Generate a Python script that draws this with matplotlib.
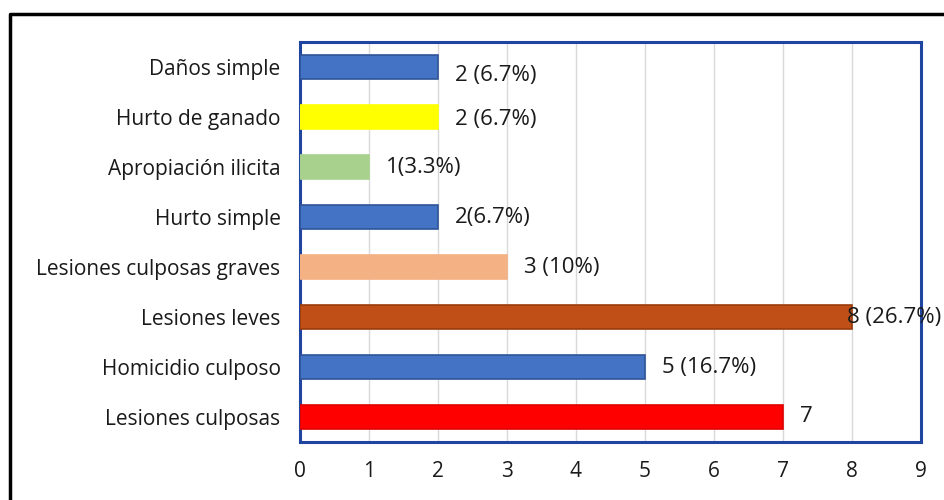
import matplotlib
matplotlib.use('Agg')
import matplotlib.pyplot as plt
from matplotlib.lines import Line2D

# data, bottom to top
categories = ['Lesiones culposas', 'Homicidio culposo', 'Lesiones leves',
              'Lesiones culposas graves', 'Hurto simple', 'Apropiación ilicita',
              'Hurto de ganado', 'Daños simple']
counts = [7, 5, 8, 3, 2, 1, 2, 2]
bar_labels = ['7', '5 (16.7%)', '8 (26.7%)', '3 (10%)', '2(6.7%)', '1(3.3%)',
              '2 (6.7%)', '2 (6.7%)']
x_ticks = list(range(0, 10))

colors = ['#FF0000', '#4472C4', '#BF4F17', '#F4B183', '#4472C4', '#A9D18E',
          '#FFFF00', '#4472C4']
edges = ['#E00000', '#2F5597', '#9A3C0C', '#F4B183', '#2F5597', '#A9D18E',
         '#FFFF00', '#2F5597']
# label offsets in pixels (dx, dy)
label_off = [(17, 0), (17, 0), (-5, 0), (17, 0), (17, 0), (17, 0), (17, -2), (17, -9)]

plt.rcParams['font.family'] = ['Open Sans', 'DejaVu Sans']

fig = plt.figure(figsize=(9.45, 5), dpi=100)
ax = fig.add_axes([300 / 945, 58 / 500, 621 / 945, 400 / 500])

ypos = list(range(len(categories)))
ax.barh(ypos, counts, height=0.48, color=colors, edgecolor=edges, linewidth=1.2, zorder=3)

for y, v, lab, (dx, dy) in zip(ypos, counts, bar_labels, label_off):
    ax.annotate(lab, (v, y), xytext=(dx * 0.72, dy * 0.72), textcoords='offset points',
                ha='left', va='center', fontsize=16, color='#1A1A1A', zorder=4,
                annotation_clip=False)

ax.set_xlim(0, 9)
ax.set_ylim(-0.5, len(categories) - 0.5)
ax.set_xticks(x_ticks)
ax.set_yticks(ypos)
ax.set_yticklabels(categories)
ax.tick_params(axis='both', length=0, labelsize=15, colors='#1A1A1A')
ax.tick_params(axis='x', pad=14)
ax.tick_params(axis='y', pad=14)
ax.grid(axis='x', color='#D9D9D9', linewidth=1, zorder=0)
ax.set_axisbelow(True)
for s in ax.spines.values():
    s.set_color('#1F45A0')
    s.set_linewidth(2.2)

# outer black frame (right and bottom run off the picture)
fig.add_artist(Line2D([10 / 945, 10 / 945, 1.01], [-0.01, 1 - 14 / 500, 1 - 14 / 500],
                      transform=fig.transFigure, color='black', linewidth=2.5))

fig.savefig('out.png', dpi=100)
